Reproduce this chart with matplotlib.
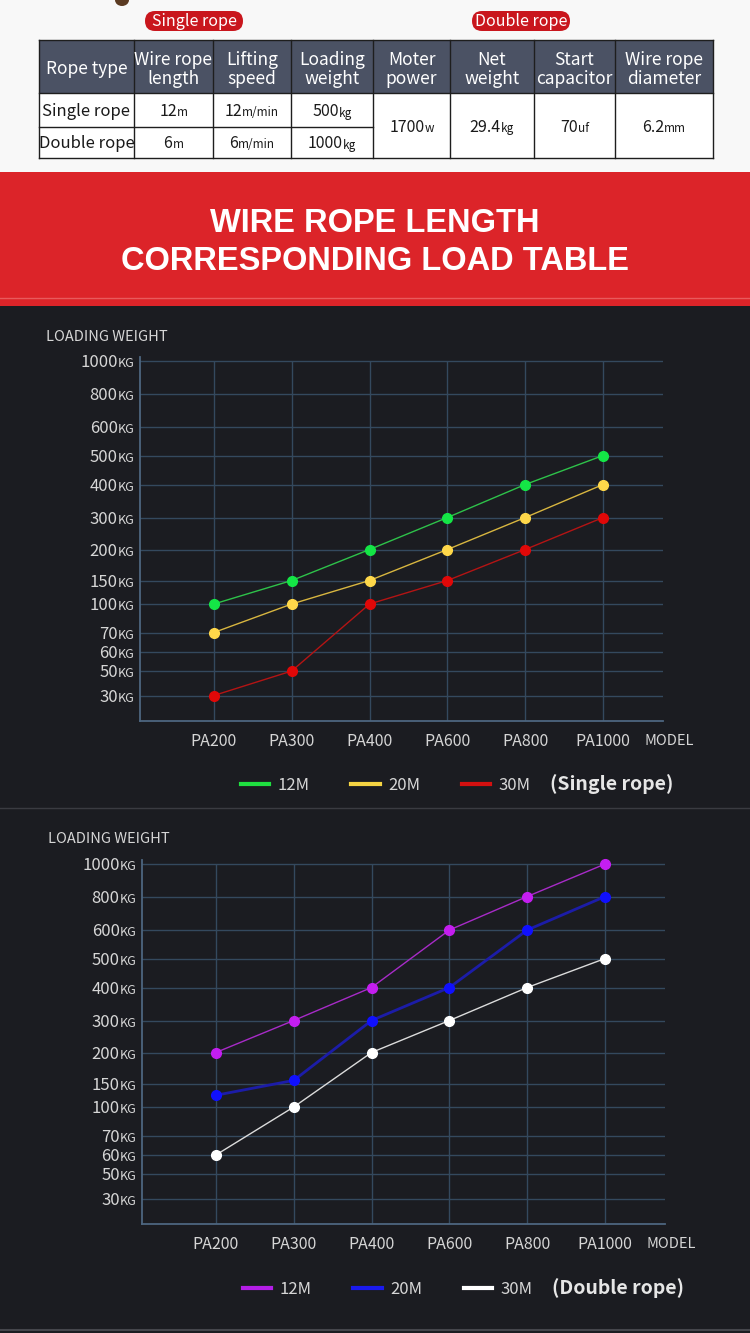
import matplotlib
matplotlib.use("Agg")
import matplotlib.pyplot as plt
from matplotlib.patches import Rectangle, FancyBboxPatch, Ellipse
from matplotlib.lines import Line2D
import numpy as np

plt.rcParams['font.family'] = ['Noto Sans CJK SC', 'DejaVu Sans']

# ---- spec table ----
HEADERS = [["Rope type"], ["Wire rope", "length"], ["Lifting", "speed"],
           ["Loading", "weight"], ["Moter", "power"], ["Net", "weight"],
           ["Start", "capacitor"], ["Wire rope", "diameter"]]
ROPE_TYPES = ["Single rope", "Double rope"]
ROPE_LENGTH = [("12", "m"), ("6", "m")]
LIFT_SPEED = [("12", "m/min"), ("6", "m/min")]
LOAD_WEIGHT = [("500", "kg"), ("1000", "kg")]
SHARED_SPECS = [("1700", "w"), ("29.4", "kg"), ("70", "uf"), ("6.2", "mm")]

# ---- load charts ----
MODELS = ["PA200", "PA300", "PA400", "PA600", "PA800", "PA1000"]
Y_LEVELS = [30, 50, 60, 70, 100, 150, 200, 300, 400, 500, 600, 800, 1000]
SERIES_NAMES = ["12M", "20M", "30M"]
SINGLE_12M = [100, 150, 200, 300, 400, 500]
SINGLE_20M = [70, 100, 150, 200, 300, 400]
SINGLE_30M = [30, 50, 100, 150, 200, 300]
DOUBLE_12M = [200, 300, 400, 600, 800, 1000]
DOUBLE_20M = [125, 155, 300, 400, 600, 800]
DOUBLE_30M = [60, 100, 200, 300, 400, 500]

# uneven axis spacing of the poster (pixels above the bottom axis line)
SCALE_VALS = [0] + Y_LEVELS + [1100]
SCALE_PX = [0, 25.5, 50, 69, 88.5, 117, 140.5, 171.5, 203.5, 236.5, 265.5,
            294, 327.5, 360, 364]

W, H = 750, 1333
DARK = '#1b1c21'
GRID = '#34495e'
SPINE = '#4d6680'
TXT = '#d6d6d6'

fig = plt.figure(figsize=(W / 100, H / 100), dpi=100)
bg = fig.add_axes([0, 0, 1, 1])
bg.set_xlim(0, W)
bg.set_ylim(H, 0)
bg.axis('off')
renderer = fig.canvas.get_renderer()

# background bands
bg.add_patch(Rectangle((0, 0), W, 172, color='#f8f8f8', lw=0))
bg.add_patch(Rectangle((0, 172), W, 134, color='#dc2429', lw=0))
bg.add_patch(Rectangle((0, 306), W, H - 306, color=DARK, lw=0))
bg.plot([0, W], [298, 298], color='#e85a5c', lw=1)
bg.plot([0, W], [808, 808], color='#3a3b41', lw=1)
bg.plot([0, W], [1330, 1330], color='#45464c', lw=1.5)
bg.add_patch(Ellipse((122, 0), 14, 12, color='#5b3b22', lw=0))


def mixed_text(x, y, parts, color, ha='center'):
    # parts: list of (string, fontsize), all on one baseline
    items = []
    for s, size in parts:
        t = bg.text(0, y, s, fontsize=size, color=color, ha='left', va='baseline')
        items.append((t, t.get_window_extent(renderer).width))
    total = sum(w for _, w in items)
    cx = x - total / 2 if ha == 'center' else x - total
    for t, w in items:
        t.set_x(cx)
        cx += w


# pills
for label, x0 in [("Single rope", 145), ("Double rope", 472)]:
    bg.add_patch(FancyBboxPatch((x0, 11), 98, 20, boxstyle="round,pad=0,rounding_size=10",
                                color='#c9161d', lw=0))
    bg.text(x0 + 49, 21, label, color='white', fontsize=11.5, ha='center', va='center')

# spec table
COL_X = [39, 134, 213, 291, 373, 450, 534, 615, 713]
ROW_Y = [40, 93, 127, 158]
bg.add_patch(Rectangle((COL_X[0], ROW_Y[0]), COL_X[-1] - COL_X[0], ROW_Y[1] - ROW_Y[0],
                       color='#4b5264', lw=0))
bg.add_patch(Rectangle((COL_X[0], ROW_Y[1]), COL_X[-1] - COL_X[0], ROW_Y[3] - ROW_Y[1],
                       color='white', lw=0))
line_kw = dict(color='#1e1e1e', lw=1)
for y in [ROW_Y[0], ROW_Y[1], ROW_Y[3]]:
    bg.plot([COL_X[0], COL_X[-1]], [y, y], **line_kw)
bg.plot([COL_X[0], COL_X[4]], [ROW_Y[2], ROW_Y[2]], **line_kw)
for x in COL_X:
    bg.plot([x, x], [ROW_Y[0], ROW_Y[3]], **line_kw)

for i, lines in enumerate(HEADERS):
    cx = (COL_X[i] + COL_X[i + 1]) / 2
    ys = [74] if len(lines) == 1 else [65, 84]
    for s, yb in zip(lines, ys):
        bg.text(cx, yb, s, color='white', fontsize=12.5, ha='center', va='baseline')

row_base = [116.5, 148.5]
for r in range(2):
    bg.text((COL_X[0] + COL_X[1]) / 2, row_base[r], ROPE_TYPES[r], color='#1a1a1a',
            fontsize=12, ha='center', va='baseline')
    for c, col in enumerate([ROPE_LENGTH, LIFT_SPEED, LOAD_WEIGHT]):
        num, unit = col[r]
        mixed_text((COL_X[c + 1] + COL_X[c + 2]) / 2, row_base[r],
                   [(num, 11.5), (unit, 8.5)], '#1a1a1a')
for c, (num, unit) in enumerate(SHARED_SPECS):
    mixed_text((COL_X[c + 4] + COL_X[c + 5]) / 2, 132, [(num, 11.5), (unit, 8.5)], '#1a1a1a')

# banner title
for s, y in [("WIRE ROPE LENGTH", 224), ("CORRESPONDING LOAD TABLE", 261)]:
    bg.text(W / 2, y, s, color='white', fontsize=23.5, fontweight='bold',
            family='Liberation Sans', ha='center', va='center')


def fwd(v):
    return np.interp(v, SCALE_VALS, SCALE_PX)


def inv(p):
    return np.interp(p, SCALE_PX, SCALE_VALS)


tmp = bg.text(0, 0, 'KG', fontsize=9)
KG_W = tmp.get_window_extent(renderer).width * 72 / 100
tmp.remove()


def draw_chart(left, bottom, right, series, line_colors, marker_colors, widths,
               legend_colors, title_y, legend_y, rope_label):
    top = bottom - 364
    ax = fig.add_axes([left / W, 1 - bottom / H, (right - left) / W, (bottom - top) / H])
    ax.set_facecolor('none')
    ax.set_yscale('function', functions=(fwd, inv))
    ax.set_ylim(0, 1100)
    x = np.arange(len(MODELS))
    ax.set_xlim(-74 / 78, len(MODELS) - 1 + 60 / 78)
    ax.set_yticks(Y_LEVELS)
    ax.set_yticklabels([])
    ax.minorticks_off()
    ax.grid(axis='y', color=GRID, lw=1)
    ax.vlines(x, 0, 1000, color=GRID, lw=1, zorder=1)
    for sp in ['top', 'right']:
        ax.spines[sp].set_visible(False)
    for sp in ['left', 'bottom']:
        ax.spines[sp].set_color(SPINE)
        ax.spines[sp].set_linewidth(1.3)
    ax.set_xticks(x)
    ax.set_xticklabels(MODELS)
    ax.tick_params(axis='both', length=0)
    ax.tick_params(axis='x', labelsize=11.5, labelcolor=TXT, pad=8.5)

    for lv in Y_LEVELS:
        ax.annotate('KG', xy=(0, lv), xycoords=ax.get_yaxis_transform(),
                    xytext=(-4.0, -4.6), textcoords='offset points', ha='right',
                    va='baseline', fontsize=9, color=TXT)
        ax.annotate(str(lv), xy=(0, lv), xycoords=ax.get_yaxis_transform(),
                    xytext=(-4.0 - KG_W, -4.6), textcoords='offset points', ha='right',
                    va='baseline', fontsize=12, color=TXT)

    for vals, lc, mc, lw in zip(series, line_colors, marker_colors, widths):
        ax.plot(x, vals, color=lc, lw=lw, marker='o', ms=7, mfc=mc, mec=mc,
                zorder=3, clip_on=False)

    bg.text(left - 94, title_y, 'LOADING WEIGHT', color=TXT, fontsize=10.5, ha='left',
            va='center')
    bg.text(left + 505, bottom + 20, 'MODEL', color=TXT, fontsize=10.5, ha='left',
            va='center')

    handles = [Line2D([], [], color=c, lw=3) for c in legend_colors]
    ax.legend(handles, SERIES_NAMES, loc='center left',
              bbox_to_anchor=((left + 101) / W, 1 - (legend_y + 1) / H),
              bbox_transform=fig.transFigure, ncol=3, frameon=False, fontsize=12,
              handlelength=1.7, handletextpad=0.5, columnspacing=2.5, borderpad=0,
              borderaxespad=0, labelcolor=TXT)
    bg.text(left + 410, legend_y, rope_label, color='#e6e6e6', fontsize=14,
            fontweight='bold', ha='left', va='center')
    return ax


draw_chart(140, 721, 663, [SINGLE_12M, SINGLE_20M, SINGLE_30M],
           ['#2ec24a', '#d8b640', '#b41414'], ['#14e646', '#ffd84a', '#e00808'],
           [1.0, 1.0, 1.0], ['#1fe040', '#f5d443', '#d41010'], 337, 784,
           '(Single rope)')
draw_chart(142, 1224, 665, [DOUBLE_12M, DOUBLE_20M, DOUBLE_30M],
           ['#a82bc8', '#1c1ca8', '#dcdcdc'], ['#c41ef0', '#1010ff', '#ffffff'],
           [1.0, 2.0, 1.0], ['#b41ee6', '#1a1aee', '#ffffff'], 839, 1288,
           '(Double rope)')

fig.savefig('out.png', dpi=100, facecolor=DARK)
